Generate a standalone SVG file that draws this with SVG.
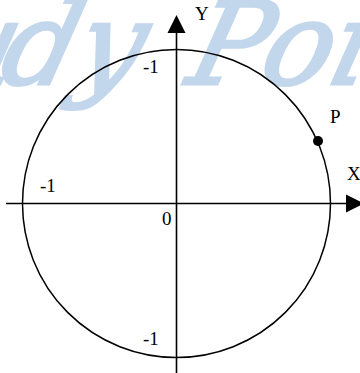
<svg xmlns="http://www.w3.org/2000/svg" width="360" height="373" viewBox="0 0 360 373">
<style>
.wm{font-family:"DejaVu Serif","Liberation Serif",serif;font-style:italic;font-weight:normal;fill:#c3d7ec;stroke:#c3d7ec;stroke-width:3}
.lbl{font-family:"Liberation Serif","Times New Roman",serif;font-size:19px;fill:#000}
.ax{stroke:#000;stroke-width:1.6;fill:none}
</style>
<rect width="360" height="373" fill="#fff"/>
<text class="wm" y="84" font-size="115" transform="skewX(-14)"><tspan x="-168">Stu</tspan><tspan x="18">dy</tspan><tspan x="205">Point</tspan></text>
<g id="circle"><circle cx="176.5" cy="203.5" r="154" fill="none" stroke="#000" stroke-width="1.5"/></g>
<g id="connectors">
<line class="ax" x1="6" y1="203.5" x2="347" y2="203.5"/>
<polygon points="346,194.5 346,212.5 364,203.5" fill="#000"/>
<line class="ax" x1="176.5" y1="373" x2="176.5" y2="32"/>
<polygon points="167.5,33 185.5,33 176.5,15" fill="#000"/>
</g>
<g id="P"><circle cx="318" cy="141" r="5" fill="#000"/><text class="lbl" x="330" y="123">P</text></g>
<g id="labels">
<text class="lbl" x="195" y="20">Y</text>
<text class="lbl" x="347" y="180">X</text>
<text class="lbl" x="143" y="73">-1</text>
<text class="lbl" x="40" y="192">-1</text>
<text class="lbl" x="162" y="225">0</text>
<text class="lbl" x="143" y="345">-1</text>
</g>
</svg>
